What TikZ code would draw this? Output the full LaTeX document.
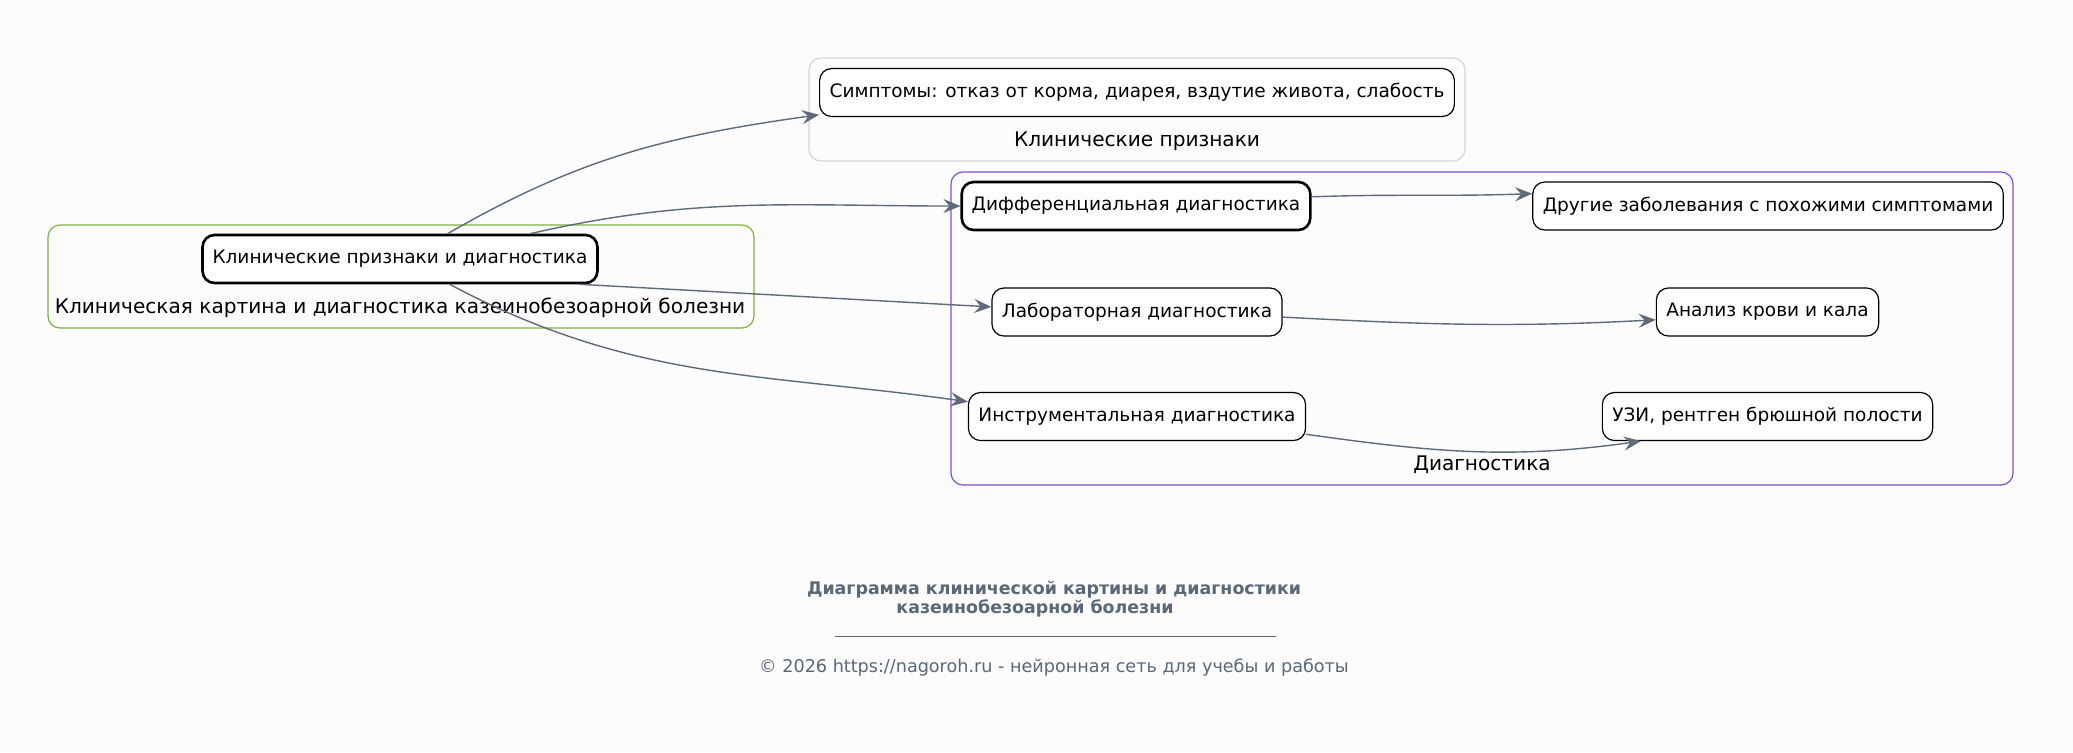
\documentclass[tikz,border=0pt]{standalone}
\usepackage{fontspec}
\setmainfont{DejaVu Sans}
\usetikzlibrary{arrows.meta}

\definecolor{edgegray}{HTML}{5F6B7A}
\definecolor{clgreen}{HTML}{7CB342}
\definecolor{clpurple}{HTML}{7E4EDB}
\definecolor{clgray}{HTML}{D6D6D6}
\definecolor{titlegray}{HTML}{5A6878}
\definecolor{bgpaper}{HTML}{FCFCFC}

\tikzset{
  box/.style={draw, rounded corners=6pt, fill=white, line width=0.6pt,
    minimum height=24pt, inner xsep=5pt, font=\fontsize{9.25}{11}\selectfont},
  keybox/.style={box, line width=1.3pt},
  cluster/.style={rounded corners=6pt, line width=0.6pt},
  clusterlabel/.style={font=\fontsize{10.05}{12}\selectfont},
  link/.style={draw=edgegray, line width=0.7pt,
    -{Stealth[length=8.5pt, width=7pt, inset=3pt]}}
}

\begin{document}
\begin{tikzpicture}[x=0.5pt, y=-0.5pt]

      \useasboundingbox[fill=bgpaper] (0,0) rectangle (2073,752);

      % clusters
      \draw[cluster, draw=clgreen]  (48,225)  rectangle (754,328);
      \draw[cluster, draw=clgray]   (809,58)  rectangle (1465,161);
      \draw[cluster, draw=clpurple] (951,172) rectangle (2013,485);

      \node[clusterlabel] (lgreen)  at (400,308)  {Клиническая картина и диагностика казеинобезоарной болезни};
      \node[clusterlabel] (lgray)   at (1137,141) {Клинические признаки};
      \node[clusterlabel] (lpurple) at (1482,465) {Диагностика};

      % nodes
      \node[keybox] (main)  at (400,259)    {Клинические признаки и диагностика};
      \node[box]    (symp)  at (1137,92.5)  {Симптомы: отказ от корма, диарея, вздутие живота, слабость};
      \node[keybox] (diff)  at (1136,206)   {Дифференциальная диагностика};
      \node[box]    (other) at (1768,206)   {Другие заболевания с похожими симптомами};
      \node[box]    (lab)   at (1137,312)   {Лабораторная диагностика};
      \node[box]    (blood) at (1767.5,312) {Анализ крови и кала};
      \node[box]    (instr) at (1137,416.5) {Инструментальная диагностика};
      \node[box]    (usg)   at (1767.5,416.5) {УЗИ, рентген брюшной полости};

      % links
      \path[link] (main.28)  to[out=30, in=188]  (symp.184);
      \path[link] (main.11)  to[out=13, in=180]  (diff.west);
      \path[link] (main.-8)  --                  (lab.178);
      \path[link] (main.-27) to[out=-28, in=172] (instr.175);
      \path[link] (diff.3)   to[out=2, in=182]   (other.177);
      \path[link] (lab.-2)   to[out=-3, in=183]  (blood.184);
      \path[link] (instr.-6) to[out=-8, in=188]  (usg.191);

      % caption
      \node[text=titlegray, font=\bfseries\fontsize{8.7}{9.4}\selectfont, align=center] (title) at (1054,599)
        {Диаграмма клинической картины и диагностики\\казеинобезоарной болезни\hspace*{19pt}};
      \draw[titlegray, line width=0.4pt] (835,636) -- (1276,636);
      \node[text=titlegray, font=\fontsize{8.8}{10}\selectfont] (copy) at (1054,667)
        {© 2026 https://nagoroh.ru - нейронная сеть для учебы и работы};

    \end{tikzpicture}
\end{document}
